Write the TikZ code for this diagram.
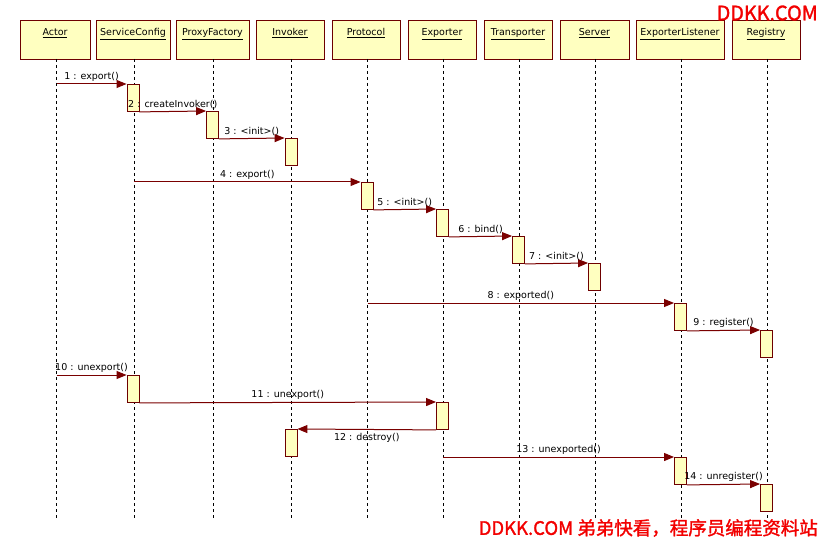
\documentclass[tikz,border=0pt]{standalone}
\usepackage{fontspec}
\setmainfont{DejaVu Sans}
\newfontfamily\cjk{Noto Sans CJK SC}[AutoFakeBold=1.5]
\usetikzlibrary{arrows.meta}
\definecolor{boxfill}{HTML}{FFFFC0}
\definecolor{boxline}{HTML}{6E0000}
\definecolor{msgcol}{HTML}{7A0000}
\definecolor{wmred}{HTML}{F20000}
\begin{document}
\begin{tikzpicture}[x=1pt,y=-1pt,
  hdr/.style={draw=boxline, fill=boxfill, line width=0.9pt, anchor=north,
    text height=10pt, text depth=19pt, inner ysep=5pt, inner xsep=0pt,
    font=\fontsize{9.5}{11}\selectfont},
  life/.style={draw=black, line width=0.9pt, dash pattern=on 3pt off 3pt},
  actbox/.style={draw=boxline, fill=boxfill, line width=0.9pt, anchor=north,
    minimum width=12pt, minimum height=27pt, inner sep=0pt},
  msg/.style={draw=msgcol, line width=1pt, -{Triangle[length=10pt,width=8pt]}},
  lbl/.style={font=\fontsize{9.5}{11}\selectfont, inner sep=1pt},
  wm/.style={text=wmred, font=\cjk\bfseries\fontsize{18.5}{20}\selectfont, inner sep=0pt}
]
\useasboundingbox (0,0) rectangle (821,540);

% header boxes
\node[hdr, minimum width=70pt] (actor) at (55,20) {\underline{Actor}};
\node[hdr, minimum width=74pt] (sc) at (133,20) {\underline{ServiceConfig}};
\node[hdr, minimum width=73pt] (pf) at (212.5,20) {\underline{ProxyFactory}};
\node[hdr, minimum width=68pt] (inv) at (290,20) {\underline{Invoker}};
\node[hdr, minimum width=68pt] (prot) at (366,20) {\underline{Protocol}};
\node[hdr, minimum width=68pt] (exp) at (442,20) {\underline{Exporter}};
\node[hdr, minimum width=68pt] (tr) at (518,20) {\underline{Transporter}};
\node[hdr, minimum width=69pt] (srv) at (594.5,20) {\underline{Server}};
\node[hdr, minimum width=88pt] (el) at (680,20) {\underline{ExporterListener}};
\node[hdr, minimum width=68pt] (reg) at (766,20) {\underline{Registry}};

% lifelines
\foreach \n/\x in {actor/56.5,sc/134,pf/213,inv/291.5,prot/367.5,exp/443,tr/519,srv/595.5,el/681.5,reg/767.5}{
  \coordinate (\n top) at (\x,59);
  \coordinate (\n bot) at (\x,518);
  \draw[life] (\n top) -- (\n bot);
}

% activation boxes
\node[actbox] (a1) at (133,84) {};
\node[actbox] (a2) at (212.5,111) {};
\node[actbox] (a3) at (291,138) {};
\node[actbox] (a4) at (367,182) {};
\node[actbox] (a5) at (442.5,209) {};
\node[actbox] (a6) at (518.5,236) {};
\node[actbox] (a7) at (594.5,263) {};
\node[actbox] (a8) at (680.5,303) {};
\node[actbox] (a9) at (766.5,330) {};
\node[actbox] (a10) at (133,375) {};
\node[actbox] (a11) at (442.5,402) {};
\node[actbox] (a12) at (291,429) {};
\node[actbox] (a13) at (680.5,457) {};
\node[actbox] (a14) at (766.5,484) {};

% message start points on lifelines
\coordinate (s1) at (56.5,84);
\coordinate (s4) at (134,182);
\coordinate (s8) at (367.5,303);
\coordinate (s10) at (56.5,375);
\coordinate (s13) at (443,457);

% messages
\draw[msg] (s1) -- node[lbl, above=1pt] (l1) {1 : export()} (a1.north west);
\draw[msg] (a1.south east) -- node[lbl, above=1pt] (l2) {2 : createInvoker()} (a2.north west);
\draw[msg] (a2.south east) -- node[lbl, above=1pt] (l3) {3 : <init>()} (a3.north west);
\draw[msg] (s4) -- node[lbl, above=1pt] (l4) {4 : export()} (a4.north west);
\draw[msg] (a4.south east) -- node[lbl, above=1pt] (l5) {5 : <init>()} (a5.north west);
\draw[msg] (a5.south east) -- node[lbl, above=1pt] (l6) {6 : bind()} (a6.north west);
\draw[msg] (a6.south east) -- node[lbl, above=1pt] (l7) {7 : <init>()} (a7.north west);
\draw[msg] (s8) -- node[lbl, above=1pt] (l8) {8 : exported()} (a8.north west);
\draw[msg] (a8.south east) -- node[lbl, above=1pt] (l9) {9 : register()} (a9.north west);
\draw[msg] (s10) -- node[lbl, above=1pt] (l10) {10 : unexport()} (a10.north west);
\draw[msg] (a10.south east) -- node[lbl, above=1pt] (l11) {11 : unexport()} (a11.north west);
\draw[msg] (a11.south west) -- node[lbl, below=2pt] (l12) {12 : destroy()} (a12.north east);
\draw[msg] (s13) -- node[lbl, above=1pt] (l13) {13 : unexported()} (a13.north west);
\draw[msg] (a13.south east) -- node[lbl, above=1pt] (l14) {14 : unregister()} (a14.north west);

% watermarks
\node[wm, anchor=east, font=\cjk\bfseries\fontsize{19.8}{21}\selectfont] (wm1) at (818,13) {DDKK.COM};
\node[wm, anchor=east] (wm2) at (818,528) {DDKK.COM 弟弟快看，程序员编程资料站};
\end{tikzpicture}
\end{document}
